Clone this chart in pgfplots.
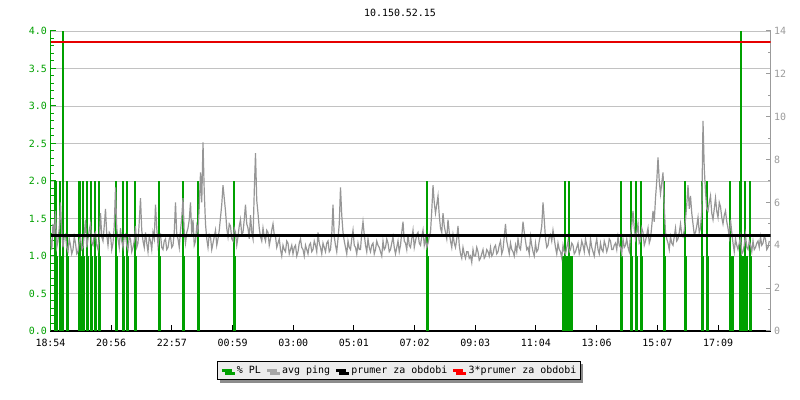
\documentclass[border=0pt]{standalone}
\usepackage{fontspec}
\setmainfont{DejaVu Sans Mono}
\usepackage{pgfplots}
\pgfplotsset{compat=1.18}
\usetikzlibrary{shadows}
\definecolor{plgreen}{RGB}{0,160,0}
\definecolor{pinggray}{RGB}{150,150,150}
\definecolor{gridgray}{RGB}{194,194,194}
\definecolor{axgray}{RGB}{155,155,155}
\definecolor{avgred}{RGB}{230,0,0}
\definecolor{legfill}{RGB}{236,236,236}
\newcommand{\tf}{\fontsize{10}{12}\selectfont}
\begin{document}
\begin{tikzpicture}
\path[use as bounding box] (0,0) rectangle (800bp,400bp);
\node[font=\tf, anchor=center] at (400bp,387bp) {10.150.52.15};
% ---------- left axis: packet loss ----------
\begin{axis}[
  at={(50.5bp,69bp)}, anchor=south west,
  scale only axis, width=720bp, height=300bp,
  xmin=0, xmax=1440, ymin=0, ymax=4,
  axis y line*=left, axis x line*=bottom,
  x axis line style={black, line width=1.3bp, -},
  y axis line style={plgreen, line width=1.3bp, -},
  xtick={0,121.4,242.7,364.1,485.5,606.8,728.2,849.5,970.9,1092.3,1213.6,1335},
  xticklabels={18:54,20:56,22:57,00:59,03:00,05:01,07:02,09:03,11:04,13:06,15:07,17:09},
  ytick={0,0.5,1,1.5,2,2.5,3,3.5,4},
  minor y tick num=4,
  ymajorgrids, grid style={gridgray, line width=0.9bp},
  major tick length=5.5bp, minor tick length=3.5bp,
  tick align=inside,
  ytick style={plgreen, line width=1bp},
  xtick style={black, line width=1bp},
  yticklabel style={plgreen, font=\tf, /pgf/number format/.cd, fixed, fixed zerofill, precision=1, assume math mode=true},
  xticklabel style={black, font=\tf, yshift=-5bp},
]
\addplot[ycomb, draw=plgreen, color=plgreen, line width=2bp, mark=none] coordinates {
(9,2)(11,2)(19,2)(33,2)(57,2)(59,2)(65,2)(73,2)(81,2)(89,2)(97,2)
(131,2)(145,2)(153,2)(169,2)(217,2)(265,2)(295,2)(367,2)(753,2)
(1029,2)(1037,2)(1141,2)(1161,2)(1171,2)(1181,2)(1227,2)(1269,2)(1303,2)(1313,2)
(1359,2)(1379,2)(1389,2)(1399,2)
(25,4)(1381,4)
};
\addplot[ycomb, draw=plgreen, color=plgreen, line width=3bp, mark=none] coordinates {
(9,1)(11,1)(19,1)(33,1)(57,1)(59,1)(65,1)(73,1)(81,1)(89,1)(97,1)
(131,1)(145,1)(153,1)(169,1)(217,1)(265,1)(295,1)(367,1)(753,1)
(1025,1)(1029,1)(1033,1)(1037,1)(1041,1)
(1141,1)(1161,1)(1171,1)(1181,1)(1227,1)(1269,1)(1303,1)(1313,1)
(1359,1)(1363,1)(1379,1)(1383,1)(1387,1)(1391,1)(1399,1)
};
\end{axis}
% ---------- right axis: avg ping ----------
\begin{axis}[
  at={(50.5bp,69bp)}, anchor=south west,
  scale only axis, width=720bp, height=300bp,
  xmin=0, xmax=1440, ymin=0, ymax=14,
  axis y line*=right, axis x line=none,
  y axis line style={axgray, line width=1.3bp, -},
  ytick={0,2,4,6,8,10,12,14},
  minor y tick num=1,
  major tick length=4.5bp, minor tick length=3bp,
  tick align=inside,
  ytick style={axgray, line width=1bp},
  yticklabel style={axgray, font=\tf, /pgf/number format/assume math mode=true},
  legend columns=4,
  legend image code/.code={\draw[#1] (0bp,0bp) -- (10bp,0bp);},
  legend style={at={(0.4835,-0.1316)}, anchor=center, draw=black, line width=0.8bp,
    fill=legfill, font=\tf, inner xsep=3.5bp, inner ysep=4bp,
    nodes={inner xsep=0bp, inner ysep=0.5bp},
    drop shadow={shadow xshift=3bp, shadow yshift=-3bp, fill=black!45, opacity=1},
    /tikz/every odd column/.append style={column sep=4bp},
    /tikz/every even column/.append style={column sep=5bp}},
]
\addlegendimage{plgreen, line width=2.2bp}
\addlegendentry{\% PL}
\addlegendimage{pinggray!85, line width=2.2bp}
\addlegendentry{avg ping}
\addlegendimage{black, line width=2.2bp}
\addlegendentry{prumer za obdobi}
\addlegendimage{red, line width=2.2bp}
\addlegendentry{3*prumer za obdobi}
\addplot[pinggray, line width=1.2bp, mark=none, forget plot] coordinates {
(0,4.3)(2.5,3.8)(5,5.0)(7.5,4.4)(10,5.6)(12.5,3.9)(15,4.2)(17.5,4.8)(20,6.0)(22.5,4.6)(25,3.9)(27.5,4.4)(30,4.5)(32.5,3.9)(35,3.7)(37.5,4.3)(40,4.0)(42.5,3.6)(45,3.8)(47.5,4.4)
(50,4.1)(52.5,3.6)(55,3.7)(57.5,4.2)(60,4.4)(62.5,3.8)(65,3.9)(67.5,4.5)(70,5.2)(72.5,3.9)(75,4.3)(77.5,4.7)(80,5.0)(82.5,4.1)(85,4.0)(87.5,4.5)(90,4.6)(92.5,4.0)(95,3.8)(97.5,4.3)
(100,5.5)(102.5,4.4)(105,4.2)(107.5,4.9)(110,5.7)(112.5,4.5)(115,4.0)(117.5,4.6)(120,4.5)(122.5,3.8)(125,4.1)(127.5,4.9)(130,6.7)(132.5,4.8)(135,4.3)(137.5,3.9)(140,4.8)(142.5,4.2)(145,3.9)(147.5,4.4)
(150,4.5)(152.5,4.0)(155,3.8)(157.5,4.4)(160,4.3)(162.5,3.7)(165,3.9)(167.5,4.2)(170,4.9)(172.5,3.9)(175,4.1)(177.5,5.1)(180,6.2)(182.5,4.7)(185,4.2)(187.5,3.9)(190,4.6)(192.5,4.1)(195,3.7)(197.5,4.4)
(200,4.2)(202.5,3.8)(205,4.6)(207.5,4.3)(210,5.9)(212.5,4.8)(215,4.0)(217.5,4.4)(220,4.5)(222.5,3.9)(225,3.8)(227.5,4.2)(230,4.3)(232.5,3.8)(235,3.9)(237.5,4.3)(240,4.4)(242.5,3.9)(245,4.0)(247.5,4.6)
(250,6.0)(252.5,4.5)(255,4.3)(257.5,3.9)(260,4.7)(262.5,5.3)(265,6.2)(267.5,4.6)(270,4.1)(272.5,4.6)(275,4.8)(277.5,5.2)(280,6.0)(282.5,4.5)(285,5.2)(287.5,4.0)(290,4.2)(292.5,4.9)(295,4.6)(297.5,5.8)
(300,7.4)(302.5,6.0)(305,8.8)(307.5,6.5)(310,5.0)(312.5,4.3)(315,3.9)(317.5,4.5)(320,4.4)(322.5,3.8)(325,4.1)(327.5,4.4)(330,4.7)(332.5,4.0)(335,4.3)(337.5,4.7)(340,5.3)(342.5,5.9)(345,6.8)(347.5,6.2)
(350,5.6)(352.5,4.8)(355,4.4)(357.5,5.0)(360,4.9)(362.5,4.3)(365,4.2)(367.5,4.8)(370,4.6)(372.5,4.0)(375,4.4)(377.5,4.9)(380,5.2)(382.5,4.5)(385,4.6)(387.5,5.2)(390,5.9)(392.5,5.0)(395,4.8)(397.5,4.3)
(400,5.4)(402.5,4.6)(405,4.3)(407.5,6.5)(410,8.3)(412.5,6.1)(415,5.5)(417.5,4.8)(420,4.4)(422.5,4.2)(425,4.8)(427.5,4.4)(430,4.2)(432.5,4.7)(435,4.6)(437.5,4.0)(440,4.3)(442.5,4.7)(445,5.0)(447.5,4.5)
(450,4.4)(452.5,3.9)(455,4.1)(457.5,4.3)(460,3.8)(462.5,3.5)(465,4.0)(467.5,3.8)(470,3.7)(472.5,4.2)(475,4.1)(477.5,3.6)(480,3.8)(482.5,4.0)(485,3.6)(487.5,3.9)(490,4.0)(492.5,3.5)(495,3.7)(497.5,4.1)
(500,4.3)(502.5,3.9)(505,3.8)(507.5,3.5)(510,4.0)(512.5,3.8)(515,3.6)(517.5,4.0)(520,4.1)(522.5,3.7)(525,3.8)(527.5,4.2)(530,4.0)(532.5,3.7)(535,4.6)(537.5,4.1)(540,3.9)(542.5,3.6)(545,4.1)(547.5,3.9)
(550,3.7)(552.5,4.1)(555,4.2)(557.5,3.7)(560,3.8)(562.5,4.5)(565,5.9)(567.5,4.4)(570,4.0)(572.5,3.7)(575,4.3)(577.5,5.0)(580,6.7)(582.5,5.4)(585,4.6)(587.5,4.2)
(590,3.9)(592.5,3.6)(595,4.2)(597.5,3.9)(600,3.8)(602.5,4.3)(605,4.7)(607.5,4.0)(610,3.9)(612.5,3.6)(615,4.1)(617.5,3.8)(620,3.8)(622.5,4.6)(625,5.1)(627.5,4.5)(630,4.0)(632.5,3.7)(635,4.3)(637.5,3.9)
(640,3.7)(642.5,4.0)(645,4.1)(647.5,3.6)(650,3.8)(652.5,4.2)(655,4.0)(657.5,3.9)(660,3.7)(662.5,3.5)(665,4.2)(667.5,3.8)(670,3.9)(672.5,4.3)(675,4.1)(677.5,3.7)(680,3.8)(682.5,4.1)(685,4.4)(687.5,3.9)
(690,3.6)(692.5,3.9)(695,4.2)(697.5,3.7)(700,4.0)(702.5,4.6)(705,5.1)(707.5,4.2)(710,4.1)(712.5,3.8)(715,4.5)(717.5,4.0)(720,3.9)(722.5,4.3)(725,4.7)(727.5,3.9)(730,4.2)(732.5,4.5)(735,4.6)(737.5,4.1)
(740,4.0)(742.5,4.4)(745,4.7)(747.5,4.0)(750,4.3)(752.5,3.9)(755,4.1)(757.5,4.4)(760,4.6)(762.5,5.6)(765,6.8)(767.5,6.0)(770,5.5)(772.5,5.9)(775,6.3)(777.5,5.4)(780,4.8)(782.5,4.6)(785,5.5)(787.5,4.9)
(790,4.6)(792.5,4.3)(795,5.2)(797.5,4.6)(800,4.2)(802.5,3.9)(805,4.5)(807.5,4.1)(810,3.9)(812.5,4.3)(815,4.9)(817.5,4.0)(820,3.6)(822.5,3.4)(825,3.9)(827.5,3.6)(830,3.4)(832.5,3.7)(835,3.7)(837.5,3.4)
(840,3.5)(842.5,3.2)(845,3.8)(847.5,3.5)(850,3.5)(852.5,3.9)(855,3.7)(857.5,3.3)(860,3.4)(862.5,3.6)(865,3.8)(867.5,3.4)(870,3.5)(872.5,3.8)(875,3.7)(877.5,3.5)
(880,3.9)(882.5,3.5)(885,3.6)(887.5,3.9)(890,4.0)(892.5,3.6)(895,3.7)(897.5,4.0)(900,4.2)(902.5,3.6)(905,3.8)(907.5,4.4)(910,5.0)(912.5,4.2)(915,3.9)(917.5,3.6)(920,4.1)(922.5,3.8)(925,3.7)(927.5,3.5)
(930,4.0)(932.5,3.7)(935,4.3)(937.5,3.9)(940,3.8)(942.5,4.4)(945,5.1)(947.5,4.6)(950,4.2)(952.5,3.8)(955,3.9)(957.5,3.6)(960,4.4)(962.5,4.0)(965,3.7)(967.5,3.5)(970,4.1)(972.5,3.7)(975,3.8)(977.5,4.2)
(980,4.5)(982.5,4.9)(985,6.0)(987.5,5.2)(990,4.3)(992.5,3.9)(995,4.0)(997.5,4.4)(1000,4.5)(1002.5,4.2)(1005,4.7)(1007.5,4.3)(1010,3.9)(1012.5,3.6)(1015,4.1)(1017.5,3.8)(1020,3.7)(1022.5,3.4)(1025,4.0)(1027.5,3.7)
(1030,3.6)(1032.5,3.9)(1035,4.2)(1037.5,3.7)(1040,3.8)(1042.5,4.1)(1045,4.0)(1047.5,3.6)(1050,3.7)(1052.5,3.9)(1055,4.1)(1057.5,3.6)(1060,3.8)(1062.5,4.2)(1065,4.0)(1067.5,3.7)(1070,4.3)(1072.5,4.0)(1075,3.8)(1077.5,3.6)
(1080,4.3)(1082.5,3.9)(1085,3.7)(1087.5,3.5)(1090,4.0)(1092.5,4.3)(1095,3.8)(1097.5,3.6)(1100,4.1)(1102.5,3.8)(1105,3.7)(1107.5,4.2)(1110,4.0)(1112.5,3.7)(1115,3.9)(1117.5,4.3)(1120,4.2)(1122.5,3.8)(1125,3.8)(1127.5,4.0)
(1130,4.1)(1132.5,3.8)(1135,4.4)(1137.5,4.0)(1140,3.9)(1142.5,3.6)(1145,4.3)(1147.5,3.9)(1150,4.0)(1152.5,4.3)(1155,3.9)(1157.5,3.7)(1160,4.5)(1162.5,4.9)
(1165,5.6)(1167.5,4.8)(1170,4.3)(1172.5,4.6)(1175,5.0)(1177.5,4.1)(1180,4.2)(1182.5,4.8)(1185,4.6)(1187.5,4.0)(1190,4.2)(1192.5,4.5)(1195,4.8)(1197.5,4.1)(1200,4.3)(1202.5,4.9)(1205,5.6)(1207.5,5.1)(1210,6.2)(1212.5,7.0)
(1215,8.1)(1217.5,7.0)(1220,6.4)(1222.5,6.9)(1225,7.4)(1227.5,5.8)(1230,4.6)(1232.5,4.3)(1235,4.1)(1237.5,3.8)(1240,4.4)(1242.5,4.1)(1245,4.0)(1247.5,4.4)(1250,4.8)(1252.5,4.2)(1255,4.3)(1257.5,4.6)(1260,5.0)(1262.5,4.5)
(1265,4.4)(1267.5,4.7)(1270,5.2)(1272.5,5.9)(1275,6.8)(1277.5,5.7)(1280,6.3)(1282.5,5.5)(1285,5.0)(1287.5,4.5)(1290,4.6)(1292.5,4.9)(1295,5.3)(1297.5,4.6)(1300,4.8)(1302.5,5.6)(1305,9.8)(1307.5,7.6)(1310,6.5)(1312.5,5.7)
(1315,5.6)(1317.5,6.0)(1320,6.3)(1322.5,5.5)(1325,5.2)(1327.5,5.7)(1330,6.2)(1332.5,5.6)(1335,5.3)(1337.5,6.0)(1340,5.8)(1342.5,5.3)(1345,5.0)(1347.5,5.4)(1350,5.6)(1352.5,5.1)(1355,4.8)(1357.5,4.4)(1360,5.2)(1362.5,4.6)
(1365,4.1)(1367.5,3.7)(1370,4.3)(1372.5,4.0)(1375,3.8)(1377.5,4.1)(1380,4.4)(1382.5,3.6)(1385,3.7)(1387.5,4.0)(1390,4.5)(1392.5,3.9)(1395,3.8)(1397.5,4.2)(1400,4.0)(1402.5,3.7)(1405,4.2)(1407.5,3.8)(1410,3.9)(1412.5,4.1)
(1415,4.2)(1417.5,3.9)(1420,4.4)(1422.5,4.0)(1425,4.1)(1427.5,4.4)(1430,4.3)(1432.5,3.8)(1435,3.9)(1437.5,4.2)
};
\addplot[black, line width=3bp, mark=none, forget plot] coordinates {(0,4.46)(1440,4.46)};
\addplot[avgred, line width=2bp, mark=none, forget plot] coordinates {(0,13.487)(1440,13.487)};
\end{axis}
\end{tikzpicture}
\end{document}
